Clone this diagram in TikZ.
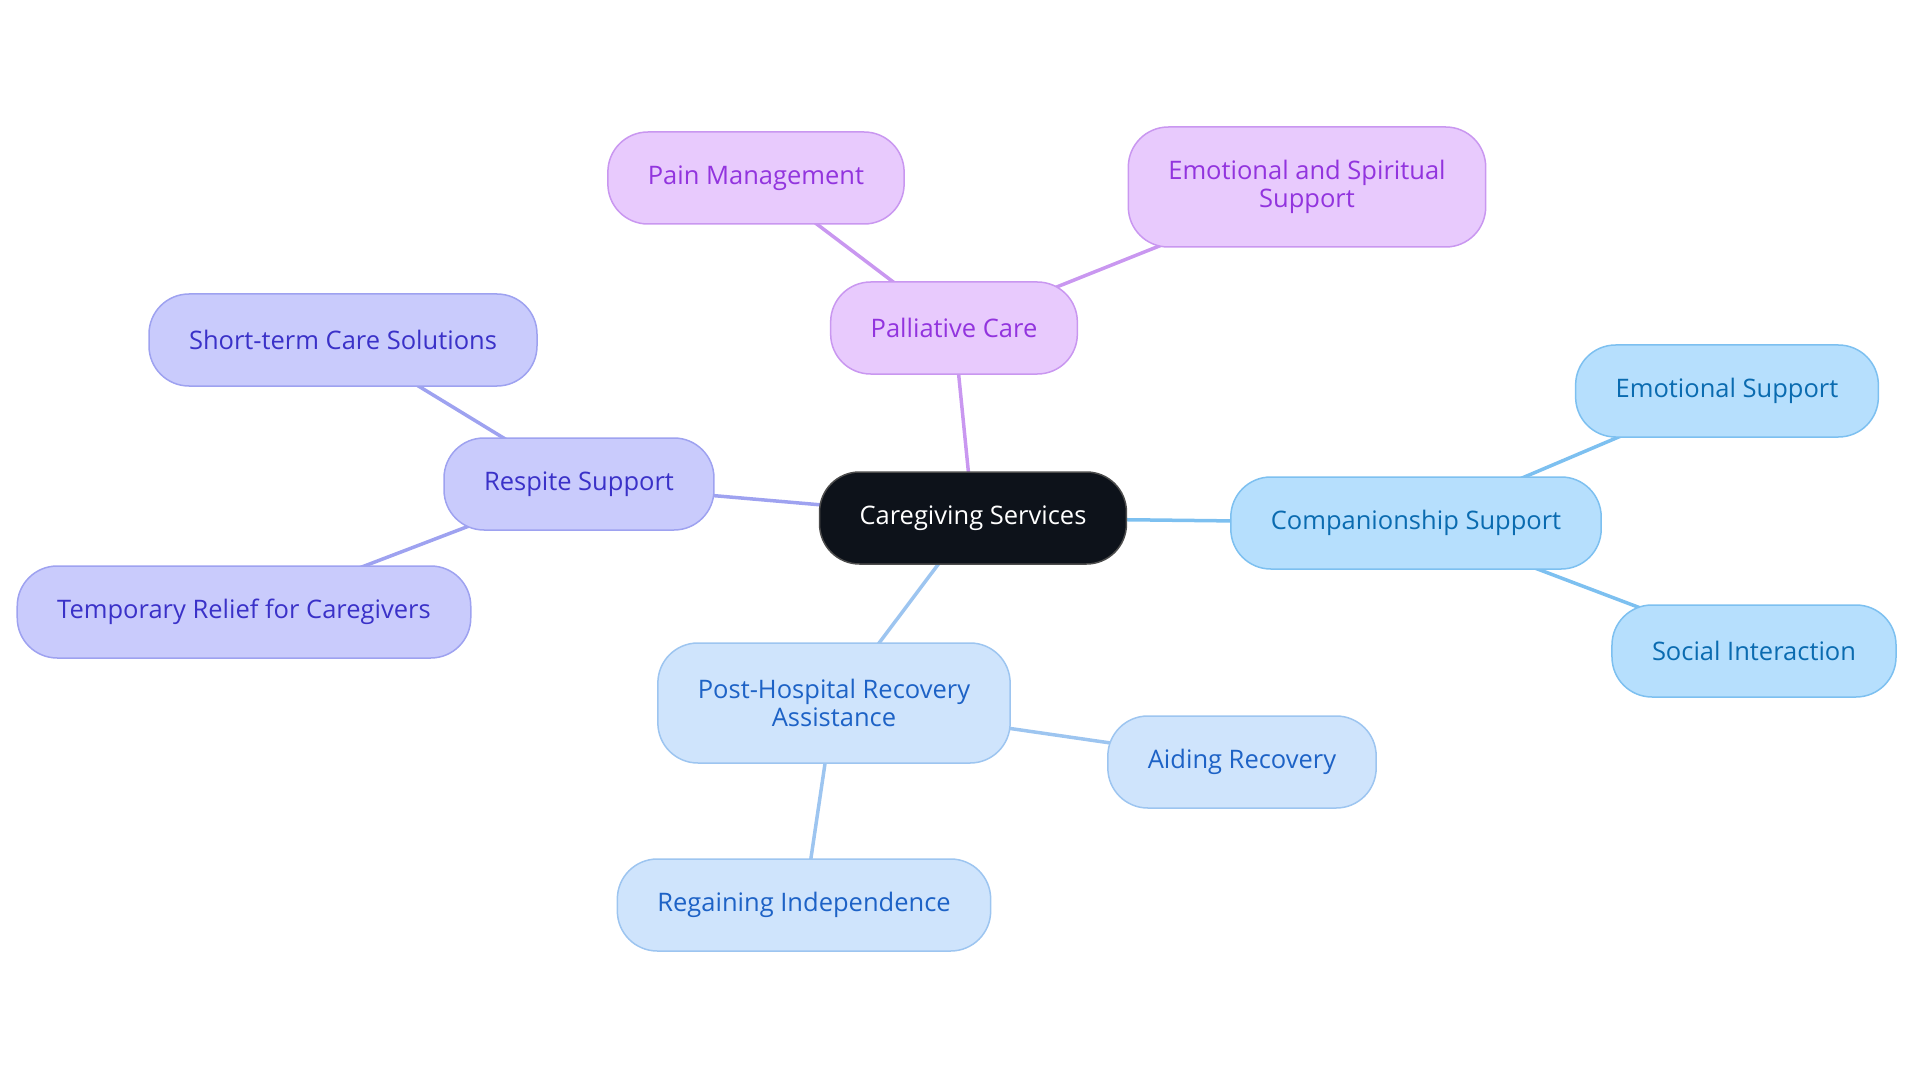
\documentclass[tikz,border=0pt]{standalone}
\usepackage{fontspec}
\setmainfont{Open Sans}
\usepackage{xcolor}
\usepackage{tikz}
\usetikzlibrary{backgrounds}
\definecolor{rootfill}{HTML}{0D121A}
\definecolor{pallfill}{HTML}{E8CAFD}
\definecolor{palldraw}{HTML}{C997F0}
\definecolor{palltext}{HTML}{9234DE}
\definecolor{respfill}{HTML}{C9CBFC}
\definecolor{respdraw}{HTML}{9EA2F0}
\definecolor{resptext}{HTML}{3A31C8}
\definecolor{compfill}{HTML}{B6DFFD}
\definecolor{compdraw}{HTML}{7DC0F0}
\definecolor{comptext}{HTML}{0A6BB0}
\definecolor{postfill}{HTML}{CFE4FC}
\definecolor{postdraw}{HTML}{9DC5F0}
\definecolor{posttext}{HTML}{1D62C6}
\tikzstyle{topic} = [rectangle, rounded corners=40pt, minimum height=92pt, inner xsep=40pt, text centered, align=center, line width=1.5pt, font=\fontsize{25.5}{28}\selectfont]
\tikzstyle{root} = [topic, fill=rootfill, draw=black!70, text=white]
\tikzstyle{pall} = [topic, fill=pallfill, draw=palldraw, text=palltext]
\tikzstyle{resp} = [topic, fill=respfill, draw=respdraw, text=resptext]
\tikzstyle{comp} = [topic, fill=compfill, draw=compdraw, text=comptext]
\tikzstyle{post} = [topic, fill=postfill, draw=postdraw, text=posttext]
\tikzstyle{twoline} = [minimum height=120pt]
\tikzstyle{link} = [line width=3.5pt]
\begin{document}
\begin{tikzpicture}[x=1pt, y=-1pt]
		
		\useasboundingbox (0,0) rectangle (1920,1083);
		
		\node (care) [root] at (973,518) {Caregiving Services};
		
		\node (palliative) [pall] at (954,328) {Palliative Care};
		\node (pain) [pall] at (756,178) {Pain Management};
		\node (spiritual) [pall, twoline] at (1307,187) {Emotional and Spiritual\\Support};
		
		\node (respite) [resp] at (579,484) {Respite Support};
		\node (shortterm) [resp] at (343,340) {Short-term Care Solutions};
		\node (relief) [resp] at (244,612) {Temporary Relief for Caregivers};
		
		\node (companion) [comp] at (1416,523) {Companionship Support};
		\node (emotional) [comp] at (1727,391) {Emotional Support};
		\node (social) [comp] at (1754,651) {Social Interaction};
		
		\node (posthosp) [post, twoline] at (834,703) {Post-Hospital Recovery\\Assistance};
		\node (aiding) [post] at (1242,762) {Aiding Recovery};
		\node (regain) [post] at (804,905) {Regaining Independence};
		
		% links go under the boxes
		\begin{scope}[on background layer]
		\draw [link, draw=palldraw] (care.center) -- (palliative.center);
		\draw [link, draw=palldraw] (palliative.center) -- (pain.center);
		\draw [link, draw=palldraw] (palliative.center) -- (spiritual.center);
		\draw [link, draw=respdraw] (care.center) -- (respite.center);
		\draw [link, draw=respdraw] (respite.center) -- (shortterm.center);
		\draw [link, draw=respdraw] (respite.center) -- (relief.center);
		\draw [link, draw=compdraw] (care.center) -- (companion.center);
		\draw [link, draw=compdraw] (companion.center) -- (emotional.center);
		\draw [link, draw=compdraw] (companion.center) -- (social.center);
		\draw [link, draw=postdraw] (care.center) -- (posthosp.center);
		\draw [link, draw=postdraw] (posthosp.center) -- (aiding.center);
		\draw [link, draw=postdraw] (posthosp.center) -- (regain.center);
		\end{scope}
		
	\end{tikzpicture}
\end{document}
